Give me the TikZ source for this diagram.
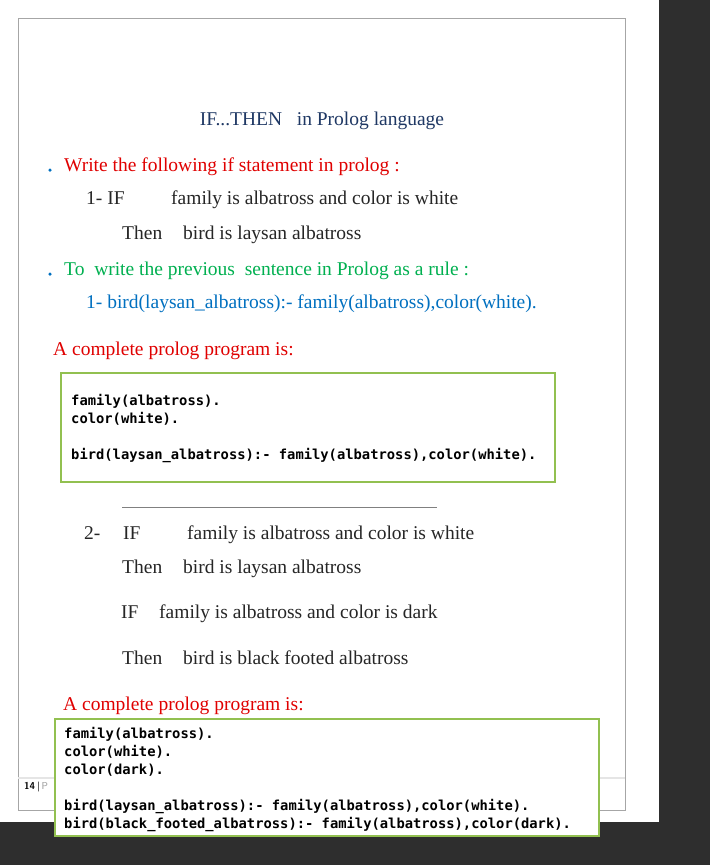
\documentclass[tikz,border=0pt]{standalone}
\usepackage{fontspec}
\setmainfont{Liberation Serif}
\setmonofont{DejaVu Sans Mono}
\definecolor{rd}{HTML}{E00000}
\definecolor{gn}{HTML}{00B050}
\definecolor{bl}{HTML}{0070C0}
\definecolor{tb}{HTML}{1F3864}
\definecolor{bx}{HTML}{92C050}
\definecolor{dk}{HTML}{2E2E2E}
\begin{document}
\begin{tikzpicture}[x=1pt,y=-1pt,
  tx/.style={anchor=base west,inner sep=0pt,font=\fontsize{19.5}{22}\selectfont,text=black!85},
  cd/.style={anchor=north west,inner sep=0pt,align=left,font=\ttfamily\bfseries\fontsize{13.8}{18}\selectfont},
  codebox/.style={draw=bx,line width=2pt,fill=white},
  dot/.style={circle,fill=bl,inner sep=0pt,minimum size=3.5pt}]
\useasboundingbox (0,0) rectangle (710,865);
\fill[white] (0,0) rectangle (710,865);
\fill[dk] (659,0) rectangle (710,865);
\fill[dk] (0,822) rectangle (710,865);
\draw[black!35] (18,18) rectangle (625,810);
\draw[black!10,line width=1.5pt] (18,778) -- (625,778);
\node[anchor=west,inner sep=0pt,font=\sffamily\bfseries\fontsize{10}{11}\selectfont] (pg) at (24,787) {14\,|\,\textcolor{black!40}{\mdseries P}};
\node[tx,anchor=base,text=tb] (title) at (322,125) {IF...THEN\ \ \ in Prolog language};
\node[dot] (b1) at (50,170) {};
\node[tx,text=rd] (w) at (64,171) {Write the following if statement in prolog :};
\node[tx] (if1) at (86,204) {1- IF};
\node[tx] (f1) at (171,204) {family is albatross and color is white};
\node[tx] (th1) at (122,239) {Then};
\node[tx] (bd1) at (183,239) {bird is laysan albatross};
\node[dot] (b2) at (50,274) {};
\node[tx,text=gn] (to) at (64,275) {To\ \ write the previous\ \ sentence in Prolog as a rule :};
\node[tx,text=bl] (r1) at (86,308) {1- bird(laysan\_albatross):- family(albatross),color(white).};
\node[tx,text=rd] (c1) at (53,355) {A complete prolog program is:};
\draw[codebox] (61,373) rectangle (555,482);
\node[cd] (code1) at (71,394) {family(albatross).\\color(white).\\[18pt]bird(laysan\_albatross):- family(albatross),color(white).};
\draw[black!50] (122,507) -- (437,507);
\node[tx] (n2) at (84,539) {2-};
\node[tx] (if2) at (123,539) {IF};
\node[tx] (f2) at (187,539) {family is albatross and color is white};
\node[tx] (th2) at (122,573) {Then};
\node[tx] (bd2) at (183,573) {bird is laysan albatross};
\node[tx] (if3) at (121,618) {IF};
\node[tx] (f3) at (159,618) {family is albatross and color is dark};
\node[tx] (th3) at (122,664) {Then};
\node[tx] (bd3) at (183,664) {bird is black footed albatross};
\node[tx,text=rd] (c2) at (63,710) {A complete prolog program is:};
\draw[codebox] (55,719) rectangle (599,836);
\node[cd] (code2) at (64,727) {family(albatross).\\color(white).\\color(dark).\\[18pt]bird(laysan\_albatross):- family(albatross),color(white).\\bird(black\_footed\_albatross):- family(albatross),color(dark).};
\end{tikzpicture}
\end{document}
